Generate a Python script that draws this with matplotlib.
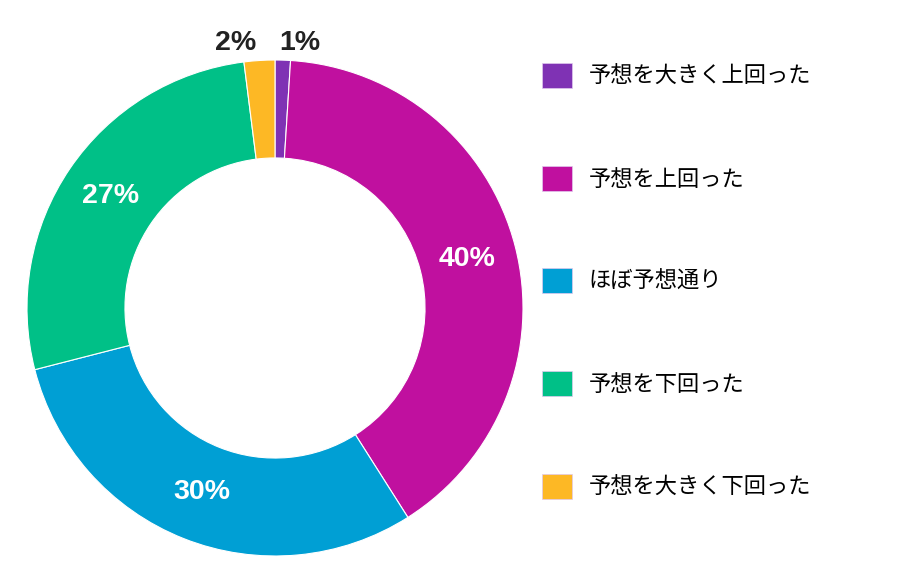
import numpy as np
import matplotlib.pyplot as plt
from matplotlib.patches import Patch

plt.rcParams['font.family'] = ['Noto Sans CJK JP', 'DejaVu Sans']

labels = ['予想を大きく上回った', '予想を上回った', 'ほぼ予想通り', '予想を下回った', '予想を大きく下回った']
values = [1, 40, 30, 27, 2]
colors = ['#7F32B4', '#C0109F', '#009FD4', '#00C087', '#FDB825']

fig = plt.figure(figsize=(9, 5.85), dpi=100)
# donut centred at (275, 308) px, radius 248 px
ax = fig.add_axes([(275 - 248) / 900, (585 - 308 - 248) / 585, 496 / 900, 496 / 585])
wedges, _ = ax.pie(values, colors=colors, startangle=90, counterclock=False,
                   radius=1, wedgeprops=dict(width=0.395, edgecolor='white', linewidth=0.8))
ax.set_xlim(-1, 1)
ax.set_ylim(-1, 1)
ax.set_aspect('equal')
ax.axis('off')

# percentage labels
for w, v in zip(wedges, values):
    ang = np.deg2rad((w.theta1 + w.theta2) / 2)
    if v >= 10:
        ax.text(0.8 * np.cos(ang), 0.8 * np.sin(ang), f'{v}%', ha='center', va='center',
                color='white', fontsize=20.5, fontweight='bold', family=['Liberation Sans', 'DejaVu Sans'])
    else:
        nudge = 0.068 if np.cos(ang) > 0 else -0.09
        ax.text(1.07 * np.cos(ang) + nudge, 1.07 * np.sin(ang), f'{v}%', ha='center', va='center',
                color='#222222', fontsize=20.5, fontweight='bold', family=['Liberation Sans', 'DejaVu Sans'],
                clip_on=False)

handles = [Patch(facecolor=c, edgecolor='#e0c8ee', linewidth=0.5) for c in colors]
fig.legend(handles, labels, loc='upper left', bbox_to_anchor=(533 / 900, 1 - 54 / 585),
           frameon=False, fontsize=16, labelspacing=3.5, handlelength=1.35, handleheight=1.35,
           handletextpad=0.75, borderaxespad=0)

plt.savefig('out.png', dpi=100)
